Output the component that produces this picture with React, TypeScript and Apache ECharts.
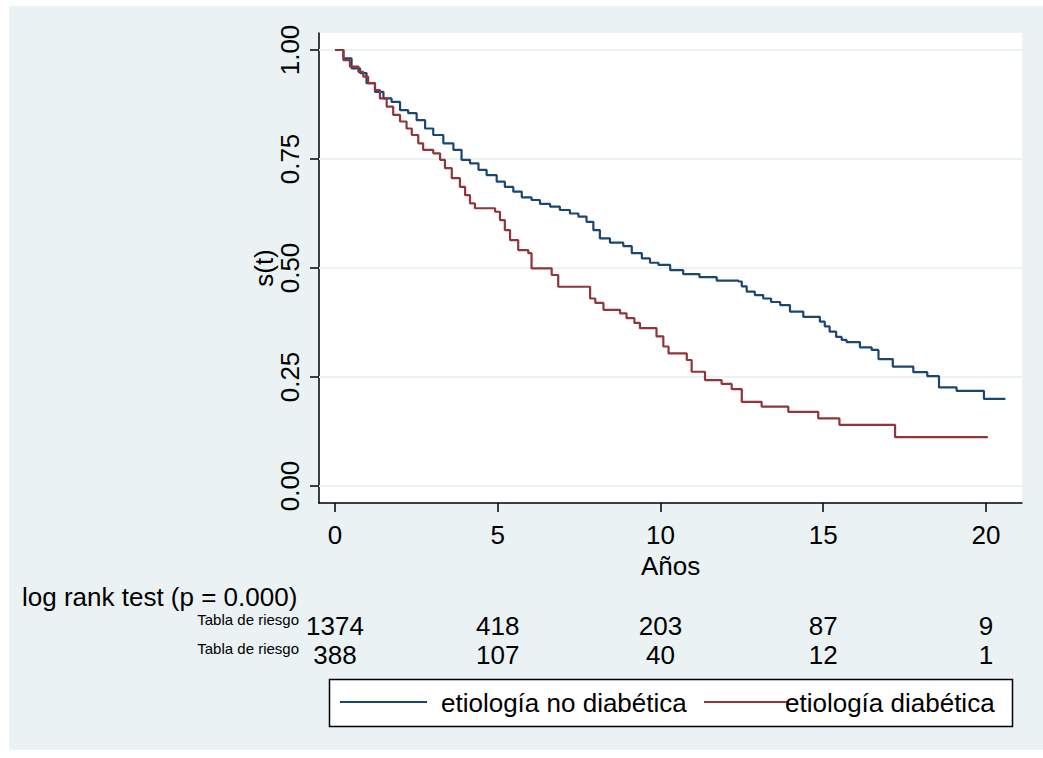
import React, { useEffect, useRef } from "react";
import * as echarts from "echarts";

const FONT = "'Liberation Sans', Arial, Helvetica, sans-serif";
const BLUE = "#1A476F";
const RED = "#90353B";
const BG = "#EAF2F3";

const xTicks = [0, 5, 10, 15, 20];
const yTicks = [0, 0.25, 0.5, 0.75, 1];
const atRiskNonDiab = [1374, 418, 203, 87, 9];
const atRiskDiab = [388, 107, 40, 12, 1];
const legendNames = ["etiología no diabética", "etiología diabética"];

const nonDiabTimes = [0, 0.26, 0.51, 0.77, 0.97, 1.23, 1.49, 1.74, 2.0, 2.25, 2.51, 2.77, 3.02, 3.33, 3.64, 3.89, 4.15, 4.41, 4.66, 4.97, 5.22, 5.48, 5.74, 6.04, 6.3, 6.61, 6.91, 7.22, 7.48, 7.73, 7.94, 8.14, 8.45, 8.86, 9.12, 9.43, 9.68, 9.94, 10.3, 10.7, 11.2, 11.73, 12.4, 12.5, 12.65, 12.9, 13.16, 13.4, 13.68, 13.98, 14.39, 14.9, 15.05, 15.2, 15.4, 15.57, 15.72, 16.13, 16.49, 16.7, 17.14, 17.77, 18.2, 18.56, 19.1, 19.94, 20.6];
const nonDiabSurv = [1.0, 0.981, 0.958, 0.947, 0.924, 0.904, 0.889, 0.881, 0.862, 0.855, 0.839, 0.82, 0.805, 0.786, 0.771, 0.748, 0.74, 0.725, 0.713, 0.698, 0.686, 0.675, 0.662, 0.656, 0.647, 0.641, 0.633, 0.625, 0.618, 0.606, 0.587, 0.568, 0.558, 0.55, 0.534, 0.522, 0.512, 0.507, 0.495, 0.486, 0.479, 0.471, 0.469, 0.458, 0.446, 0.438, 0.43, 0.422, 0.415, 0.4, 0.388, 0.377, 0.366, 0.354, 0.342, 0.335, 0.33, 0.318, 0.312, 0.291, 0.274, 0.261, 0.252, 0.226, 0.218, 0.2, 0.2];

const diabTimes = [0, 0.26, 0.46, 0.72, 0.87, 1.02, 1.23, 1.38, 1.59, 1.79, 2.0, 2.2, 2.36, 2.56, 2.71, 3.02, 3.23, 3.38, 3.59, 3.84, 4.0, 4.15, 4.3, 4.92, 5.07, 5.22, 5.38, 5.63, 5.94, 6.04, 6.66, 6.86, 7.84, 8.0, 8.25, 8.76, 8.96, 9.2, 9.37, 9.88, 10.09, 10.25, 10.81, 10.96, 11.37, 11.88, 12.19, 12.5, 13.11, 13.93, 14.85, 15.5, 17.21, 20.06];
const diabSurv = [1.0, 0.977, 0.962, 0.95, 0.939, 0.924, 0.908, 0.889, 0.87, 0.851, 0.836, 0.82, 0.805, 0.786, 0.771, 0.763, 0.748, 0.729, 0.706, 0.686, 0.667, 0.648, 0.637, 0.629, 0.61, 0.587, 0.564, 0.541, 0.534, 0.499, 0.484, 0.457, 0.43, 0.42, 0.404, 0.396, 0.385, 0.374, 0.362, 0.343, 0.32, 0.304, 0.289, 0.262, 0.243, 0.234, 0.222, 0.193, 0.182, 0.17, 0.155, 0.14, 0.112, 0.112];

const X_MIN = -0.49;
const X_MAX = 21.11;
const Y_MIN = -0.039;
const Y_MAX = 1.039;

export default function App() {
  const ref = useRef<HTMLDivElement>(null);
  useEffect(() => {
    if (!ref.current) return;
    const chart = echarts.init(ref.current, null, { renderer: "svg" });
    const pairs = (t: number[], s: number[]) => t.map((v, i) => [v, s[i]]);
    const riskAxis = (offset: number, vals: number[]) => ({
      type: "value",
      gridIndex: 0,
      min: X_MIN,
      max: X_MAX,
      position: "bottom",
      offset,
      axisLine: { show: false },
      axisTick: { show: false },
      splitLine: { show: false },
      axisLabel: {
        customValues: xTicks,
        formatter: (v: number) => String(vals[xTicks.indexOf(Math.round(v))]),
        margin: 0,
        fontSize: 26,
        fontFamily: FONT,
        color: "#000",
      },
    });
    chart.setOption({
      animation: false,
      backgroundColor: "#fff",
      textStyle: { fontFamily: FONT },
      grid: {
        left: 319,
        top: 33,
        width: 703,
        height: 470,
        show: true,
        backgroundColor: "#fff",
        borderWidth: 0,
      },
      xAxis: [
        {
          type: "value",
          min: X_MIN,
          max: X_MAX,
          name: "Años",
          nameLocation: "middle",
          nameGap: 47,
          nameTextStyle: { fontSize: 26, color: "#000", fontFamily: FONT },
          axisLine: { show: true, onZero: false, lineStyle: { color: "#000", width: 1.5 } },
          axisTick: { show: true, customValues: xTicks, length: 9, lineStyle: { color: "#000", width: 1.5 } },
          splitLine: { show: false },
          axisLabel: {
            customValues: xTicks,
            formatter: (v: number) => String(Math.round(v)),
            margin: 19,
            fontSize: 26,
            fontFamily: FONT,
            color: "#000",
          },
        },
        riskAxis(110, atRiskNonDiab),
        riskAxis(139, atRiskDiab),
      ],
      yAxis: {
        type: "value",
        min: Y_MIN,
        max: Y_MAX,
        name: "s(t)",
        nameLocation: "middle",
        nameGap: 42,
        nameRotate: 90,
        nameMoveOverlap: false,
        nameTextStyle: { fontSize: 26, color: "#000", fontFamily: FONT },
        axisLine: { show: true, onZero: false, lineStyle: { color: "#000", width: 1.5 } },
        axisTick: { show: true, customValues: yTicks, length: 9, lineStyle: { color: "#000", width: 1.5 } },
        splitLine: { show: false },
        axisLabel: {
          customValues: yTicks,
          rotate: 90,
          formatter: (v: number) => v.toFixed(2),
          margin: 16,
          fontSize: 26,
          fontFamily: FONT,
          color: "#000",
        },
      },
      series: [
        {
          type: "line",
          name: "grid",
          data: [],
          silent: true,
          markLine: {
            z: 1,
            silent: true,
            symbol: "none",
            label: { show: false },
            lineStyle: { color: BG, width: 2, type: "solid" },
            data: yTicks.map((v) => ({ yAxis: v })),
          },
        },
        {
          type: "line",
          name: legendNames[0],
          step: "end",
          z: 3,
          showSymbol: false,
          symbol: "none",
          lineStyle: { color: BLUE, width: 2.2 },
          itemStyle: { color: BLUE },
          data: pairs(nonDiabTimes, nonDiabSurv),
        },
        {
          type: "line",
          name: legendNames[1],
          step: "end",
          z: 4,
          showSymbol: false,
          symbol: "none",
          lineStyle: { color: RED, width: 2.2 },
          itemStyle: { color: RED },
          data: pairs(diabTimes, diabSurv),
        },
      ],
      graphic: [
        {
          type: "rect",
          z: -10,
          silent: true,
          shape: { x: 9, y: 6, width: 1034, height: 744 },
          style: { fill: BG },
        },
        {
          type: "text",
          left: 22,
          top: 584,
          style: { text: "log rank test (p = 0.000)", fontSize: 26, fontFamily: FONT, fill: "#000" },
        },
        {
          type: "text",
          x: 299,
          y: 619,
          style: { text: "Tabla de riesgo", fontSize: 15, fontFamily: FONT, fill: "#000", align: "right", verticalAlign: "middle" },
        },
        {
          type: "text",
          x: 299,
          y: 648,
          style: { text: "Tabla de riesgo", fontSize: 15, fontFamily: FONT, fill: "#000", align: "right", verticalAlign: "middle" },
        },
        {
          type: "rect",
          shape: { x: 329.5, y: 679.5, width: 683, height: 47 },
          style: { fill: "#fff", stroke: "#000", lineWidth: 1.5 },
        },
        {
          type: "line",
          shape: { x1: 340, y1: 702, x2: 427, y2: 702 },
          style: { stroke: BLUE, lineWidth: 2 },
        },
        {
          type: "text",
          x: 441,
          y: 703,
          style: { text: legendNames[0], fontSize: 26, fontFamily: FONT, fill: "#000", verticalAlign: "middle" },
        },
        {
          type: "line",
          shape: { x1: 704, y1: 702, x2: 789, y2: 702 },
          style: { stroke: RED, lineWidth: 2 },
        },
        {
          type: "text",
          x: 785,
          y: 703,
          style: { text: legendNames[1], fontSize: 26, fontFamily: FONT, fill: "#000", verticalAlign: "middle" },
        },
      ],
    });
    return () => chart.dispose();
  }, []);
  return (
    <div
      ref={ref}
      style={{ position: "fixed", left: 0, top: 0, width: 1043, height: 758 }}
    />
  );
}
